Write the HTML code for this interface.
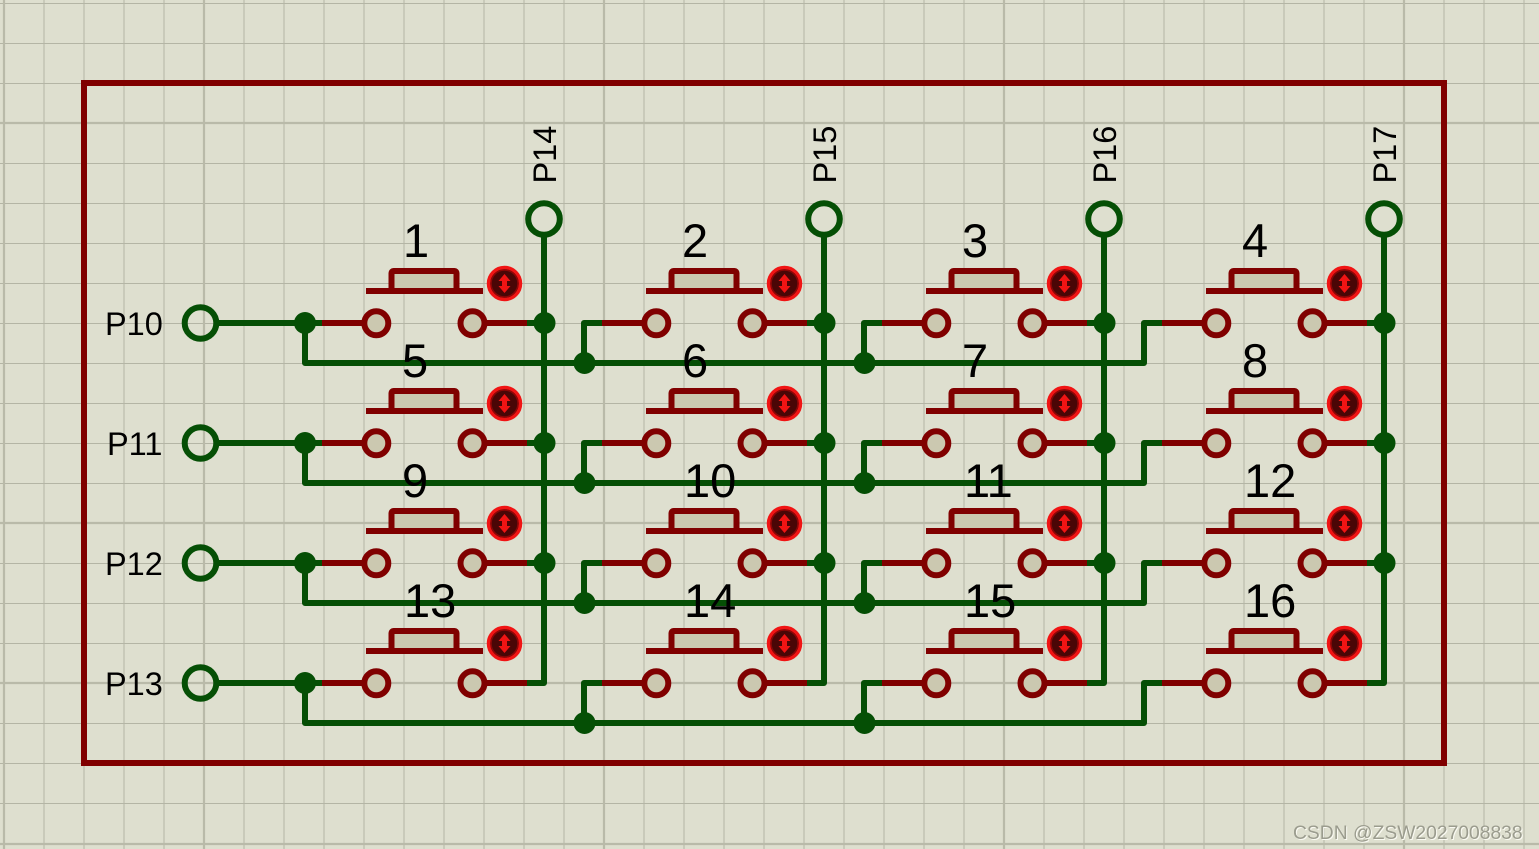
<!DOCTYPE html>
<html><head><meta charset="utf-8"><style>
html,body{margin:0;padding:0;background:#dedfcf}
svg{display:block;font-family:"Liberation Sans",sans-serif}
</style></head><body>
<svg width="1539" height="849" viewBox="0 0 1539 849" xmlns="http://www.w3.org/2000/svg">
<defs>
<pattern id="gv" width="40" height="849" patternUnits="userSpaceOnUse" x="4" y="0"><rect x="-0.5" width="1" height="849" fill="#b4b5a5"/><rect x="39.5" width="1" height="849" fill="#b4b5a5"/></pattern>
<g id="sw">
<rect x="391.5" y="271" width="65" height="20" rx="2" fill="#cbc8b0" stroke="#800000" stroke-width="6"/>
<path d="M366 291H483" stroke="#800000" stroke-width="6" fill="none"/>
<path d="M320 323H364M484 323H529" stroke="#800000" stroke-width="6" fill="none"/>
<circle cx="376.3" cy="323.3" r="12" fill="#cbc8b0" stroke="#800000" stroke-width="6"/>
<circle cx="472.5" cy="323.3" r="12" fill="#cbc8b0" stroke="#800000" stroke-width="6"/>
<circle cx="504.5" cy="283.5" r="16" fill="#4a0606" stroke="#f01414" stroke-width="3.5"/>
<circle cx="504.5" cy="283.5" r="13.5" fill="none" stroke="#8e0606" stroke-width="1.5"/>
<path d="M504.5 274l6 7h-3.5v5h3.5l-6 7-6-7h3.5v-5h-3.5z" fill="#f01414"/>
</g>
<g id="row" fill="none" stroke="#054f05" stroke-width="6">
<path d="M218 323H322M305 323V363H584V323H602M584 363H864V323H882M864 363H1144V323H1162" stroke-linejoin="round"/>
<circle cx="305" cy="323" r="11" fill="#054f05" stroke="none"/>
<circle cx="584.5" cy="363" r="11" fill="#054f05" stroke="none"/>
<circle cx="864.5" cy="363" r="11" fill="#054f05" stroke="none"/>
<circle cx="200.5" cy="323" r="15.8" fill="none"/>
</g>
</defs>
<rect width="1539" height="849" fill="#dedfcf"/>
<rect width="1539" height="849" fill="url(#gv)"/>
<path fill="none" stroke="#b4b5a5" stroke-width="1" d="M0 3.5H1539M0 43.5H1539M0 83.5H1539M0 163.5H1539M0 203.5H1539M0 243.5H1539M0 283.5H1539M0 323.5H1539M0 363.5H1539M0 403.5H1539M0 443.5H1539M0 483.5H1539M0 563.5H1539M0 603.5H1539M0 643.5H1539M0 723.5H1539M0 763.5H1539M0 803.5H1539"/>
<path fill="none" stroke="#b9baa9" stroke-width="2.2" d="M0 123H1539M0 523H1539M0 683H1539M0 844H1539M4 0V849M204 0V849M604 0V849M1004 0V849M1404 0V849"/>
<rect x="84" y="83" width="1360" height="680" fill="none" stroke="#800000" stroke-width="6"/>

<use href="#sw"/><use href="#sw" x="280"/><use href="#sw" x="560"/><use href="#sw" x="840"/>
<use href="#sw" y="120"/><use href="#sw" x="280" y="120"/><use href="#sw" x="560" y="120"/><use href="#sw" x="840" y="120"/>
<use href="#sw" y="240"/><use href="#sw" x="280" y="240"/><use href="#sw" x="560" y="240"/><use href="#sw" x="840" y="240"/>
<use href="#sw" y="360"/><use href="#sw" x="280" y="360"/><use href="#sw" x="560" y="360"/><use href="#sw" x="840" y="360"/>

<use href="#row"/><use href="#row" y="120"/><use href="#row" y="240"/><use href="#row" y="360"/>

<g fill="none" stroke="#054f05" stroke-width="6" stroke-linejoin="round">
<circle cx="544" cy="219" r="15.8"/><circle cx="824" cy="219" r="15.8"/><circle cx="1104" cy="219" r="15.8"/><circle cx="1384" cy="219" r="15.8"/>
<path d="M544 235V683H527M824 235V683H807M1104 235V683H1087M1384 235V683H1367"/>
<path d="M527 323H544M527 443H544M527 563H544M807 323H824M807 443H824M807 563H824M1087 323H1104M1087 443H1104M1087 563H1104M1367 323H1384M1367 443H1384M1367 563H1384"/>
</g>
<g fill="#054f05">
<circle cx="544.5" cy="323" r="11"/><circle cx="544.5" cy="443" r="11"/><circle cx="544.5" cy="563" r="11"/>
<circle cx="824.5" cy="323" r="11"/><circle cx="824.5" cy="443" r="11"/><circle cx="824.5" cy="563" r="11"/>
<circle cx="1104.5" cy="323" r="11"/><circle cx="1104.5" cy="443" r="11"/><circle cx="1104.5" cy="563" r="11"/>
<circle cx="1384.5" cy="323" r="11"/><circle cx="1384.5" cy="443" r="11"/><circle cx="1384.5" cy="563" r="11"/>
</g>

<g font-size="47" fill="#000">
<text x="403" y="257">1</text><text x="682" y="257">2</text><text x="962" y="257">3</text><text x="1242" y="257">4</text>
<text x="402" y="377">5</text><text x="682" y="377">6</text><text x="962" y="377">7</text><text x="1242" y="377">8</text>
<text x="402" y="497">9</text><text x="684" y="497">10</text><text x="964" y="497">11</text><text x="1244" y="497">12</text>
<text x="404" y="617">13</text><text x="684" y="617">14</text><text x="964" y="617">15</text><text x="1244" y="617">16</text>
</g>
<g font-size="32.5" fill="#000">
<text x="105" y="335">P10</text><text x="107" y="455">P11</text><text x="105" y="575">P12</text><text x="105" y="695">P13</text>
<text transform="translate(556 183.5) rotate(-90)">P14</text>
<text transform="translate(836 183.5) rotate(-90)">P15</text>
<text transform="translate(1116 183.5) rotate(-90)">P16</text>
<text transform="translate(1396 183.5) rotate(-90)">P17</text>
</g>
<text x="1294" y="840" font-size="19.3" fill="#fafaf2">CSDN @ZSW2027008838</text>
<text x="1293" y="839" font-size="19.3" fill="#9b9c8e">CSDN @ZSW2027008838</text>
</svg>
</body></html>
